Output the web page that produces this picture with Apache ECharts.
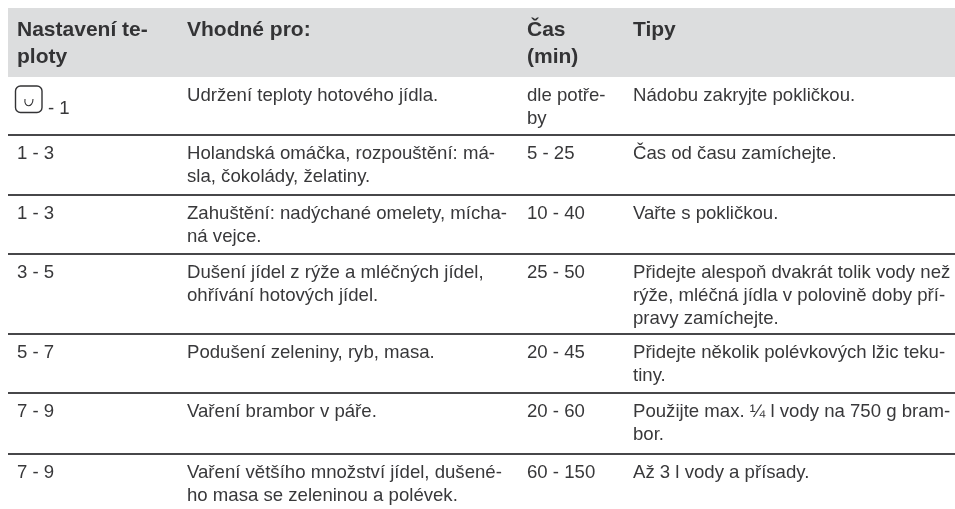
<!DOCTYPE html>
<html><head><meta charset="utf-8"><style>html,body{margin:0;padding:0;background:#fff}#c{width:955px;height:509px}</style>
<script src="https://cdn.jsdelivr.net/npm/echarts@6/dist/echarts.min.js"></script></head><body><div id="c"></div>
<script>
const headers = ["Nastavení te-\nploty", "Vhodné pro:", "Čas\n(min)", "Tipy"];
const settings = ["- 1", "1 - 3", "1 - 3", "3 - 5", "5 - 7", "7 - 9", "7 - 9"];
const suitable = [
  "Udržení teploty hotového jídla.",
  "Holandská omáčka, rozpouštění: má-\nsla, čokolády, želatiny.",
  "Zahuštění: nadýchané omelety, mícha-\nná vejce.",
  "Dušení jídel z rýže a mléčných jídel,\nohřívání hotových jídel.",
  "Podušení zeleniny, ryb, masa.",
  "Vaření brambor v páře.",
  "Vaření většího množství jídel, dušené-\nho masa se zeleninou a polévek."
];
const times = ["dle potře-\nby", "5 - 25", "10 - 40", "25 - 50", "20 - 45", "20 - 60", "60 - 150"];
const tips = [
  "Nádobu zakryjte pokličkou.",
  "Čas od času zamíchejte.",
  "Vařte s pokličkou.",
  "Přidejte alespoň dvakrát tolik vody než\nrýže, mléčná jídla v polovině doby pří-\npravy zamíchejte.",
  "Přidejte několik polévkových lžic teku-\ntiny.",
  "Použijte max. ¼ l vody na 750 g bram-\nbor.",
  "Až 3 l vody a přísady."
];
const rowTops = [77, 135, 195, 254, 334, 393, 454];
const ruleYs = [135, 195, 254, 334, 393, 454];
const colX = [17, 187, 527, 633];
const FONT = '"Liberation Sans", Arial, sans-serif';
const INK = '#38383a';
const g = [];
g.push({type:'rect',shape:{x:8,y:8,width:947,height:69},style:{fill:'#dcddde'}});
headers.forEach((h,i)=>g.push({type:'text',x:colX[i],y:16,style:{text:h,font:'bold 21px '+FONT,fill:'#333335',lineHeight:27.5,textVerticalAlign:'top'}}));
ruleYs.forEach(y=>g.push({type:'rect',shape:{x:8,y:y-1,width:947,height:2},style:{fill:'#47474a'}}));
function cell(x,y,t){g.push({type:'text',x:x,y:y,style:{text:t,font:'18.6px '+FONT,fill:INK,lineHeight:23,textVerticalAlign:'top'}});}
rowTops.forEach((top,i)=>{
  cell(i===0?48:colX[0], i===0?top+20:top+7, settings[i]);
  cell(colX[1],top+7,suitable[i]);
  cell(colX[2],top+7,times[i]);
  cell(colX[3],top+7,tips[i]);
});
g.push({type:'rect',shape:{x:15.5,y:86,width:26.5,height:26.5,r:5},style:{fill:'none',stroke:'#333335',lineWidth:1.4}});
g.push({type:'bezierCurve',shape:{x1:25,y1:99,cpx1:23.5,cpy1:108,cpx2:33,cpy2:108,x2:33,y2:99},style:{fill:'none',stroke:'#333335',lineWidth:1.1}});
echarts.init(document.getElementById('c'),null,{renderer:'canvas'}).setOption({animation:false,backgroundColor:'#fff',graphic:{elements:g}});
</script></body></html>
